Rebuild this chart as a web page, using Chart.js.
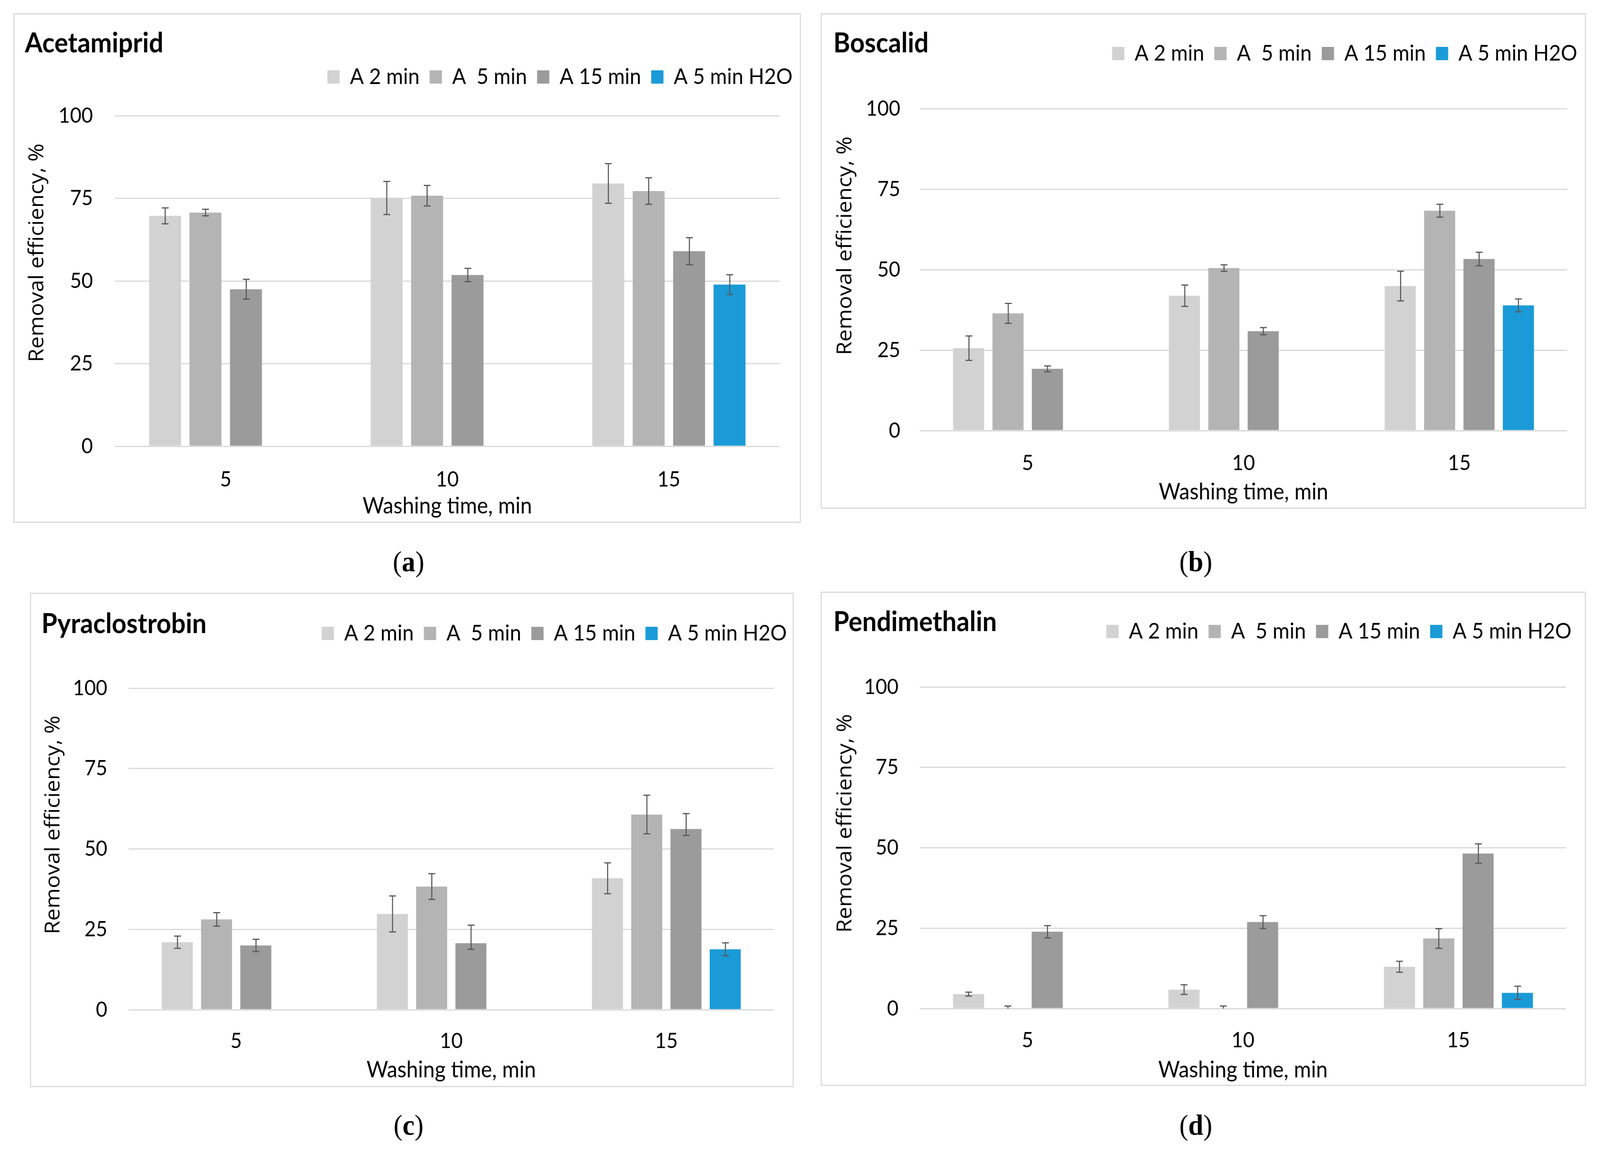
<!DOCTYPE html>
<html><head><meta charset="utf-8">
<script src="https://cdn.jsdelivr.net/npm/chart.js@4.4.1/dist/chart.umd.min.js"></script>
<style>
html,body{margin:0;padding:0;background:#fff;overflow:hidden;}
#page{position:absolute;left:0;top:0;width:4441px;height:2948px;overflow:hidden;background:#fff;transform-origin:0 0;}
.frame{position:absolute;box-sizing:border-box;border:3px solid #d9d9d9;}
canvas{position:absolute;}
.lab{position:absolute;font-family:"Liberation Serif","DejaVu Serif",serif;font-size:75px;color:#000;transform:translate(-50%,-50%);white-space:nowrap;line-height:1;}
</style></head><body><div id="page"></div>
<script>
// ---------- data ----------
const categories = ['5', '10', '15'];
const seriesLabels = ['A 2 min', 'A  5 min', 'A 15 min', 'A 5 min H2O'];
const yTicks = [0, 25, 50, 75, 100];
const xAxisTitle = 'Washing time, min';
const yAxisTitle = 'Removal efficiency, %';

// (a) Acetamiprid
const acetA2 = [69.7, 75.1, 79.5];
const acetA5 = [70.7, 75.8, 77.2];
const acetA15 = [47.5, 51.8, 59.0];
const acetH2O = [null, null, 48.9];
const acetA2Err = [2.4, 5.0, 6.0];
const acetA5Err = [1.0, 3.1, 4.0];
const acetA15Err = [3.0, 2.0, 4.1];
const acetH2OErr = [null, null, 3.0];

// (b) Boscalid
const boscA2 = [25.6, 41.9, 44.9];
const boscA5 = [36.4, 50.5, 68.3];
const boscA15 = [19.2, 30.9, 53.3];
const boscH2O = [null, null, 38.9];
const boscA2Err = [3.8, 3.3, 4.6];
const boscA5Err = [3.1, 1.0, 2.0];
const boscA15Err = [0.9, 1.1, 2.1];
const boscH2OErr = [null, null, 2.0];

// (c) Pyraclostrobin  (error entries: value = symmetric, [plus, minus] = asymmetric)
const pyraA2 = [21.0, 29.8, 40.9];
const pyraA5 = [28.1, 38.3, 60.7];
const pyraA15 = [20.0, 20.7, 56.2];
const pyraH2O = [null, null, 18.8];
const pyraA2Err = [1.9, 5.6, 4.8];
const pyraA5Err = [2.1, 4.0, 6.0];
const pyraA15Err = [1.9, [5.6, 1.9], [4.8, 2.0]];
const pyraH2OErr = [null, null, 2.0];

// (d) Pendimethalin
const pendA2 = [4.5, 5.9, 13.0];
const pendA5 = [0, 0, 21.8];
const pendA15 = [23.9, 26.9, 48.2];
const pendH2O = [null, null, 4.9];
const pendA2Err = [0.6, 1.5, 1.7];
const pendA5Err = [[0.8, 0], [0.8, 0], 3.05];
const pendA15Err = [1.9, 2.0, 3.0];
const pendH2OErr = [null, null, 2.05];

// ---------- styles ----------
const seriesColors = ['#d2d2d2', '#b4b4b4', '#9b9b9b', '#1a9bd7'];
const TITLE_SIZE = 71, LEG_FONT = 57, LEG_PAD = 28, TICK_FONT = 55, XT_FONT = 58, YT_FONT = 56;

const panels = [
  { name: 'Acetamiprid', tag: 'a', series: [acetA2, acetA5, acetA15, acetH2O], errs: [acetA2Err, acetA5Err, acetA15Err, acetH2OErr],
    box: {x: 37, y: 34, w: 2186, h: 1304}, titleX: 69, titleCY: 111, legendCY: 197, legendEnd: 2200,
    plotL: 319, plotR: 2164, plotT: 296, plotB: 1142, yLabelRight: 258, yTitleCX: 104, yTitleCY: 647, xTickCY: 1227, xTitleCY: 1295, label: [1134, 1436] },
  { name: 'Boscalid', tag: 'b', series: [boscA2, boscA5, boscA15, boscH2O], errs: [boscA2Err, boscA5Err, boscA15Err, boscH2OErr],
    box: {x: 2278, y: 34, w: 2124, h: 1268}, titleX: 2313, titleCY: 111, legendCY: 137, legendEnd: 4378,
    plotL: 2553, plotR: 4350, plotT: 278, plotB: 1102, yLabelRight: 2499, yTitleCX: 2347, yTitleCY: 629, xTickCY: 1185, xTitleCY: 1259, label: [3319, 1436] },
  { name: 'Pyraclostrobin', tag: 'c', series: [pyraA2, pyraA5, pyraA15, pyraH2O], errs: [pyraA2Err, pyraA5Err, pyraA15Err, pyraH2OErr],
    box: {x: 83, y: 1517, w: 2120, h: 1265}, titleX: 115, titleCY: 1597, legendCY: 1621, legendEnd: 2184,
    plotL: 357, plotR: 2148, plotT: 1761, plotB: 2584, yLabelRight: 298, yTitleCX: 149, yTitleCY: 2111, xTickCY: 2664, xTitleCY: 2738, label: [1134, 2878] },
  { name: 'Pendimethalin', tag: 'd', series: [pendA2, pendA5, pendA15, pendH2O], errs: [pendA2Err, pendA5Err, pendA15Err, pendH2OErr],
    box: {x: 2278, y: 1514, w: 2124, h: 1265}, titleX: 2313, titleCY: 1592, legendCY: 1616, legendEnd: 4362,
    plotL: 2553, plotR: 4347, plotT: 1758, plotB: 2581, yLabelRight: 2494, yTitleCX: 2347, yTitleCY: 2107, xTickCY: 2662, xTitleCY: 2738, label: [3319, 2878] }
];

// ---------- plugins ----------
const errorBars = {
  id: 'errorBars',
  afterDatasetsDraw(chart, args, opts) {
    const ctx = chart.ctx, ys = chart.scales.y;
    ctx.save();
    ctx.strokeStyle = opts.color; ctx.lineWidth = opts.width; ctx.lineCap = 'butt';
    chart.data.datasets.forEach((ds, i) => {
      const meta = chart.getDatasetMeta(i);
      if (meta.hidden) return;
      meta.data.forEach((bar, j) => {
        const v = ds.data[j], e = ds.errors[j];
        if (v == null || e == null) return;
        const up = Array.isArray(e) ? e[0] : e, dn = Array.isArray(e) ? e[1] : e;
        const yT = ys.getPixelForValue(v + up), yB = ys.getPixelForValue(v - dn);
        const x = Math.round(bar.x) + 0.5, hw = opts.cap / 2;
        ctx.beginPath();
        ctx.moveTo(x, yT); ctx.lineTo(x, yB);
        if (up > 0) { ctx.moveTo(x - hw, yT); ctx.lineTo(x + hw, yT); }
        if (dn > 0) { ctx.moveTo(x - hw, yB); ctx.lineTo(x + hw, yB); }
        ctx.stroke();
      });
    });
    ctx.restore();
  }
};
const legendGap = {
  id: 'legendGap',
  afterInit(chart, args, opts) {
    const lg = chart.legend;
    if (!lg || lg._gapPatched) return;
    const fit = lg.fit;
    lg.fit = function () { fit.call(this); this.height += opts.extra; };
    lg._gapPatched = true;
  }
};
// rotated value-axis title, placed where the original figure has it
const yAxisTitlePlugin = {
  id: 'yAxisTitle',
  afterDraw(chart, args, o) {
    const ctx = chart.ctx;
    ctx.save();
    ctx.translate(o.x, o.y);
    ctx.rotate(-Math.PI / 2);
    ctx.font = o.size + 'px "Open Sans"';
    ctx.fillStyle = o.color; ctx.textAlign = 'center'; ctx.textBaseline = 'middle';
    ctx.fillText(o.text, 0, 0);
    ctx.restore();
  }
};

// ---------- build ----------
const page = document.getElementById('page');
const SX = (window.innerWidth || 4441) / 4441;
const SY = (window.innerHeight || 2948) / 2948;
page.style.transform = 'scale(' + SX + ',' + SY + ')';

function build(p) {
  const fr = document.createElement('div');
  fr.className = 'frame';
  Object.assign(fr.style, {left: p.box.x + 'px', top: p.box.y + 'px', width: p.box.w + 'px', height: p.box.h + 'px'});
  page.appendChild(fr);

  const cx = p.box.x, cy = p.box.y;
  const cw = Math.round(p.legendEnd - cx + LEG_PAD), ch = p.box.h;
  const cv = document.createElement('canvas');
  cv.width = cw; cv.height = ch;
  Object.assign(cv.style, {left: cx + 'px', top: cy + 'px', width: cw + 'px', height: ch + 'px'});
  page.appendChild(cv);

  const padL = p.titleX - cx;
  const tLH = TITLE_SIZE * 1.2;
  const tTop = (p.titleCY - cy) - tLH / 2;
  const legTop = (p.legendCY - cy) - LEG_PAD - LEG_FONT / 2;
  const tBot = legTop - tTop - tLH;
  const legExtra = (p.plotT - cy) - legTop - (LEG_FONT + LEG_PAD + 10);
  const yW = (p.plotL - cx) - padL;
  const yTickPad = p.plotL - p.yLabelRight;
  const rW = cw - (p.plotR - cx);
  const xH = ch - (p.plotB - cy);
  const xTickPad = (p.xTickCY - cy) - (p.plotB - cy) - TICK_FONT * 1.2 / 2;
  const xTitlePadB = ch - (p.xTitleCY - cy) - XT_FONT * 1.2 / 2;

  const datasets = p.series.map((d, i) => ({
    label: seriesLabels[i], data: d, errors: p.errs[i],
    backgroundColor: seriesColors[i], borderWidth: 0,
    categoryPercentage: 0.73, barPercentage: 0.79, xAxisID: 'x', yAxisID: 'y'
  }));

  new Chart(cv, {
    type: 'bar',
    data: {labels: categories, datasets},
    options: {
      responsive: false, animation: false, devicePixelRatio: 1,
      layout: {padding: {left: padL, top: 0, right: 0, bottom: 0}},
      plugins: {
        title: {display: true, text: p.name, align: 'start', color: '#000',
          font: {family: 'Lato', weight: 'bold', size: TITLE_SIZE, lineHeight: 1.2},
          padding: {top: tTop, bottom: tBot}},
        legend: {display: true, position: 'top', align: 'end',
          labels: {boxWidth: 34, boxHeight: 34, padding: LEG_PAD, color: '#000',
            font: {family: 'Lato', size: LEG_FONT}}},
        tooltip: {enabled: false},
        legendGap: {extra: legExtra},
        errorBars: {color: '#595959', width: 3, cap: 19},
        yAxisTitle: {text: yAxisTitle, x: p.yTitleCX - cx, y: p.yTitleCY - cy, size: YT_FONT, color: '#000'}
      },
      scales: {
        x: {type: 'category', position: 'bottom',
          grid: {display: false, drawTicks: false, tickLength: 0}, border: {display: false},
          ticks: {color: '#000', font: {family: 'Lato', size: TICK_FONT, lineHeight: 1.2}, padding: xTickPad, maxRotation: 0, minRotation: 0},
          title: {display: true, text: xAxisTitle, color: '#000', font: {family: 'Lato', size: XT_FONT, lineHeight: 1.2}, padding: {top: 0, bottom: xTitlePadB}},
          afterFit(s) { s.height = xH; }},
        y: {type: 'linear', position: 'left', min: 0, max: 100,
          afterBuildTicks(s) { s.ticks = yTicks.map(v => ({value: v})); },
          grid: {color: '#d9d9d9', lineWidth: 3, drawTicks: false, tickLength: 0}, border: {display: false},
          ticks: {color: '#000', font: {family: 'Lato', size: TICK_FONT, lineHeight: 1.2}, padding: yTickPad},
          title: {display: false},
          afterFit(s) { s.width = yW; }},
        yR: {type: 'linear', position: 'right', display: true,
          grid: {display: false, drawTicks: false}, border: {display: false},
          ticks: {display: false}, title: {display: false},
          afterFit(s) { s.width = rW; }}
      }
    },
    plugins: [legendGap, errorBars, yAxisTitlePlugin]
  });

  const lab = document.createElement('div');
  lab.className = 'lab';
  lab.style.left = p.label[0] + 'px'; lab.style.top = p.label[1] + 'px';
  lab.innerHTML = '(<b>' + p.tag + '</b>)';
  page.appendChild(lab);
}
panels.forEach(build);
</script></body></html>
